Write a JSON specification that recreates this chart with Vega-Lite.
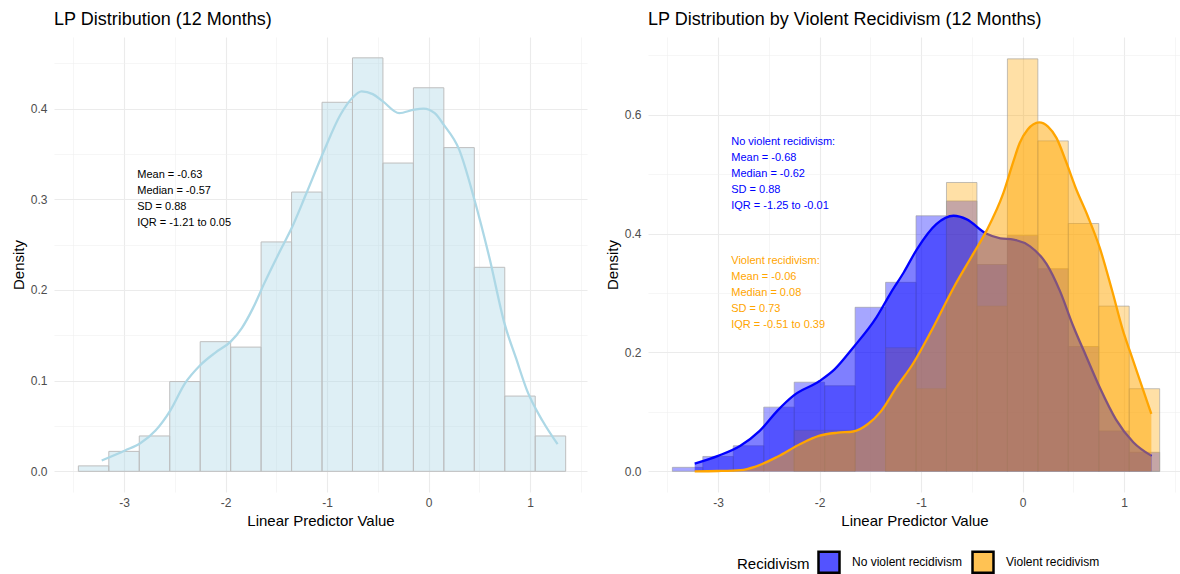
{
  "$schema": "https://vega.github.io/schema/vega-lite/v6.json",
  "background": "white",
  "padding": {"left": 11, "top": 10, "right": 0, "bottom": 0},
  "spacing": 18,
  "config": {
    "font": "Liberation Sans",
    "view": {"stroke": null},
    "axis": {
      "domain": false,
      "ticks": false,
      "labelFont": "Liberation Sans",
      "labelFontSize": 12,
      "labelColor": "#4D4D4D",
      "titleFont": "Liberation Sans",
      "titleFontSize": 15,
      "titleFontWeight": "normal",
      "titleColor": "#000000",
      "gridColor": "#EBEBEB"
    },
    "axisX": {"labelPadding": 5, "titlePadding": 5},
    "axisY": {"labelPadding": 7, "titlePadding": 4},
    "title": {
      "font": "Liberation Sans",
      "fontSize": 18,
      "fontWeight": "normal",
      "color": "#000000",
      "anchor": "start",
      "frame": "group",
      "offset": 8.5,
      "baseline": "alphabetic"
    }
  },
  "datasets": {
    "hist": [
      {"bin_start": -3.45, "bin_end": -3.15, "density": 0.006},
      {"bin_start": -3.15, "bin_end": -2.85, "density": 0.022},
      {"bin_start": -2.85, "bin_end": -2.55, "density": 0.039},
      {"bin_start": -2.55, "bin_end": -2.25, "density": 0.099},
      {"bin_start": -2.25, "bin_end": -1.95, "density": 0.143},
      {"bin_start": -1.95, "bin_end": -1.65, "density": 0.137},
      {"bin_start": -1.65, "bin_end": -1.35, "density": 0.253},
      {"bin_start": -1.35, "bin_end": -1.05, "density": 0.308},
      {"bin_start": -1.05, "bin_end": -0.75, "density": 0.407},
      {"bin_start": -0.75, "bin_end": -0.45, "density": 0.456},
      {"bin_start": -0.45, "bin_end": -0.15, "density": 0.340},
      {"bin_start": -0.15, "bin_end": 0.15, "density": 0.423},
      {"bin_start": 0.15, "bin_end": 0.45, "density": 0.357},
      {"bin_start": 0.45, "bin_end": 0.75, "density": 0.225},
      {"bin_start": 0.75, "bin_end": 1.05, "density": 0.083},
      {"bin_start": 1.05, "bin_end": 1.35, "density": 0.039}
    ],
    "dens": [
      {"x": -3.22, "density": 0.012},
      {"x": -2.99, "density": 0.023},
      {"x": -2.84, "density": 0.031},
      {"x": -2.69, "density": 0.045},
      {"x": -2.545, "density": 0.067},
      {"x": -2.4, "density": 0.097},
      {"x": -2.25, "density": 0.117},
      {"x": -2.1, "density": 0.131},
      {"x": -1.95, "density": 0.143},
      {"x": -1.84, "density": 0.158},
      {"x": -1.73, "density": 0.18},
      {"x": -1.62, "density": 0.207},
      {"x": -1.45, "density": 0.246},
      {"x": -1.35, "density": 0.268},
      {"x": -1.21, "density": 0.305},
      {"x": -1.04, "density": 0.351},
      {"x": -0.87, "density": 0.393},
      {"x": -0.75, "density": 0.412},
      {"x": -0.66, "density": 0.419},
      {"x": -0.55, "density": 0.416},
      {"x": -0.45, "density": 0.408},
      {"x": -0.29, "density": 0.395},
      {"x": -0.14, "density": 0.399},
      {"x": -0.05, "density": 0.4},
      {"x": 0.06, "density": 0.395},
      {"x": 0.15, "density": 0.382},
      {"x": 0.3, "density": 0.355},
      {"x": 0.45, "density": 0.3},
      {"x": 0.6, "density": 0.235},
      {"x": 0.75, "density": 0.162},
      {"x": 0.86, "density": 0.125},
      {"x": 0.97, "density": 0.089},
      {"x": 1.12, "density": 0.056},
      {"x": 1.27, "density": 0.03}
    ],
    "grp_hist": [
      {"group": "No violent recidivism", "bin_start": -3.45, "bin_end": -3.15, "density": 0.0067},
      {"group": "No violent recidivism", "bin_start": -3.15, "bin_end": -2.85, "density": 0.025},
      {"group": "No violent recidivism", "bin_start": -2.85, "bin_end": -2.55, "density": 0.043},
      {"group": "No violent recidivism", "bin_start": -2.55, "bin_end": -2.25, "density": 0.108},
      {"group": "No violent recidivism", "bin_start": -2.25, "bin_end": -1.95, "density": 0.150},
      {"group": "No violent recidivism", "bin_start": -1.95, "bin_end": -1.65, "density": 0.144},
      {"group": "No violent recidivism", "bin_start": -1.65, "bin_end": -1.35, "density": 0.276},
      {"group": "No violent recidivism", "bin_start": -1.35, "bin_end": -1.05, "density": 0.318},
      {"group": "No violent recidivism", "bin_start": -1.05, "bin_end": -0.75, "density": 0.430},
      {"group": "No violent recidivism", "bin_start": -0.75, "bin_end": -0.45, "density": 0.455},
      {"group": "No violent recidivism", "bin_start": -0.45, "bin_end": -0.15, "density": 0.348},
      {"group": "No violent recidivism", "bin_start": -0.15, "bin_end": 0.15, "density": 0.397},
      {"group": "No violent recidivism", "bin_start": 0.15, "bin_end": 0.45, "density": 0.341},
      {"group": "No violent recidivism", "bin_start": 0.45, "bin_end": 0.75, "density": 0.210},
      {"group": "No violent recidivism", "bin_start": 0.75, "bin_end": 1.05, "density": 0.068},
      {"group": "No violent recidivism", "bin_start": 1.05, "bin_end": 1.35, "density": 0.032},
      {"group": "Violent recidivism", "bin_start": -2.25, "bin_end": -1.95, "density": 0.069},
      {"group": "Violent recidivism", "bin_start": -1.95, "bin_end": -1.65, "density": 0.069},
      {"group": "Violent recidivism", "bin_start": -1.35, "bin_end": -1.05, "density": 0.208},
      {"group": "Violent recidivism", "bin_start": -1.05, "bin_end": -0.75, "density": 0.139},
      {"group": "Violent recidivism", "bin_start": -0.75, "bin_end": -0.45, "density": 0.486},
      {"group": "Violent recidivism", "bin_start": -0.45, "bin_end": -0.15, "density": 0.278},
      {"group": "Violent recidivism", "bin_start": -0.15, "bin_end": 0.15, "density": 0.694},
      {"group": "Violent recidivism", "bin_start": 0.15, "bin_end": 0.45, "density": 0.556},
      {"group": "Violent recidivism", "bin_start": 0.45, "bin_end": 0.75, "density": 0.417},
      {"group": "Violent recidivism", "bin_start": 0.75, "bin_end": 1.05, "density": 0.278},
      {"group": "Violent recidivism", "bin_start": 1.05, "bin_end": 1.35, "density": 0.139}
    ],
    "grp_dens": [
      {"group": "No violent recidivism", "x": -3.23, "density": 0.013},
      {"group": "No violent recidivism", "x": -3.0, "density": 0.026},
      {"group": "No violent recidivism", "x": -2.78, "density": 0.043},
      {"group": "No violent recidivism", "x": -2.59, "density": 0.068},
      {"group": "No violent recidivism", "x": -2.41, "density": 0.103},
      {"group": "No violent recidivism", "x": -2.26, "density": 0.127},
      {"group": "No violent recidivism", "x": -2.0, "density": 0.152},
      {"group": "No violent recidivism", "x": -1.85, "density": 0.172},
      {"group": "No violent recidivism", "x": -1.67, "density": 0.208},
      {"group": "No violent recidivism", "x": -1.44, "density": 0.259},
      {"group": "No violent recidivism", "x": -1.3, "density": 0.3},
      {"group": "No violent recidivism", "x": -1.17, "density": 0.335},
      {"group": "No violent recidivism", "x": -1.04, "density": 0.374},
      {"group": "No violent recidivism", "x": -0.85, "density": 0.416},
      {"group": "No violent recidivism", "x": -0.68, "density": 0.43},
      {"group": "No violent recidivism", "x": -0.55, "density": 0.424},
      {"group": "No violent recidivism", "x": -0.36, "density": 0.4},
      {"group": "No violent recidivism", "x": -0.22, "density": 0.392},
      {"group": "No violent recidivism", "x": -0.09, "density": 0.39},
      {"group": "No violent recidivism", "x": 0.07, "density": 0.379},
      {"group": "No violent recidivism", "x": 0.235, "density": 0.349},
      {"group": "No violent recidivism", "x": 0.366, "density": 0.304},
      {"group": "No violent recidivism", "x": 0.497, "density": 0.245},
      {"group": "No violent recidivism", "x": 0.63, "density": 0.192},
      {"group": "No violent recidivism", "x": 0.76, "density": 0.141},
      {"group": "No violent recidivism", "x": 0.92, "density": 0.087},
      {"group": "No violent recidivism", "x": 1.09, "density": 0.049},
      {"group": "No violent recidivism", "x": 1.27, "density": 0.026},
      {"group": "Violent recidivism", "x": -3.23, "density": 0.0},
      {"group": "Violent recidivism", "x": -3.0, "density": 0.0005},
      {"group": "Violent recidivism", "x": -2.78, "density": 0.002},
      {"group": "Violent recidivism", "x": -2.63, "density": 0.008},
      {"group": "Violent recidivism", "x": -2.41, "density": 0.025},
      {"group": "Violent recidivism", "x": -2.19, "density": 0.046},
      {"group": "Violent recidivism", "x": -2.0, "density": 0.06},
      {"group": "Violent recidivism", "x": -1.82, "density": 0.065},
      {"group": "Violent recidivism", "x": -1.67, "density": 0.067},
      {"group": "Violent recidivism", "x": -1.52, "density": 0.08},
      {"group": "Violent recidivism", "x": -1.4, "density": 0.1},
      {"group": "Violent recidivism", "x": -1.24, "density": 0.142},
      {"group": "Violent recidivism", "x": -1.08, "density": 0.181},
      {"group": "Violent recidivism", "x": -0.9, "density": 0.236},
      {"group": "Violent recidivism", "x": -0.68, "density": 0.309},
      {"group": "Violent recidivism", "x": -0.49, "density": 0.365},
      {"group": "Violent recidivism", "x": -0.355, "density": 0.405},
      {"group": "Violent recidivism", "x": -0.19, "density": 0.468},
      {"group": "Violent recidivism", "x": -0.09, "density": 0.522},
      {"group": "Violent recidivism", "x": -0.03, "density": 0.552},
      {"group": "Violent recidivism", "x": 0.05, "density": 0.575},
      {"group": "Violent recidivism", "x": 0.163, "density": 0.587},
      {"group": "Violent recidivism", "x": 0.25, "density": 0.58},
      {"group": "Violent recidivism", "x": 0.333, "density": 0.561},
      {"group": "Violent recidivism", "x": 0.43, "density": 0.52},
      {"group": "Violent recidivism", "x": 0.52, "density": 0.478},
      {"group": "Violent recidivism", "x": 0.64, "density": 0.43},
      {"group": "Violent recidivism", "x": 0.76, "density": 0.376},
      {"group": "Violent recidivism", "x": 0.88, "density": 0.305},
      {"group": "Violent recidivism", "x": 0.99, "density": 0.236},
      {"group": "Violent recidivism", "x": 1.055, "density": 0.203},
      {"group": "Violent recidivism", "x": 1.268, "density": 0.0965}
    ],
    "notes": [
      {"panel": "all", "x": -2.87, "y": 0.30, "label": "Mean = -0.63\nMedian = -0.57\nSD = 0.88\nIQR = -1.21 to 0.05"},
      {"panel": "No violent recidivism", "x": -2.87, "y": 0.50, "label": "No violent recidivism:\nMean = -0.68\nMedian = -0.62\nSD = 0.88\nIQR = -1.25 to -0.01"},
      {"panel": "Violent recidivism", "x": -2.87, "y": 0.30, "label": "Violent recidivism:\nMean = -0.06\nMedian = 0.08\nSD = 0.73\nIQR = -0.51 to 0.39"}
    ]
  },
  "resolve": {"scale": {"x": "independent", "y": "independent", "color": "independent"}, "legend": {"color": "independent"}},
  "hconcat": [
    {
      "width": 533,
      "height": 455,
      "title": "LP Distribution (12 Months)",
      "layer": [
        {
          "data": {"name": "hist"},
          "mark": {"type": "bar", "fill": "#ADD8E6", "fillOpacity": 0.4, "stroke": "#BEBEBE", "strokeWidth": 1},
          "encoding": {
            "x": {
              "field": "bin_start", "type": "quantitative",
              "scale": {"domain": [-3.69, 1.56], "nice": false, "zero": false},
              "axis": {
                "title": "Linear Predictor Value",
                "values": [-3.5, -3, -2.5, -2, -1.5, -1, -0.5, 0, 0.5, 1, 1.5],
                "labelExpr": "datum.value % 1 === 0 ? '' + datum.value : ''",
                "gridWidth": {"condition": {"test": "datum.value % 1 !== 0", "value": 0.6}, "value": 1.1},
                "gridColor": {"condition": {"test": "datum.value % 1 !== 0", "value": "#F0F0F0"}, "value": "#EBEBEB"}
              }
            },
            "x2": {"field": "bin_end"},
            "y": {
              "field": "density", "type": "quantitative",
              "scale": {"domain": [-0.0228, 0.479], "nice": false, "zero": false},
              "axis": {
                "title": "Density",
                "values": [0, 0.05, 0.1, 0.15, 0.2, 0.25, 0.3, 0.35, 0.4, 0.45],
                "labelExpr": "round(datum.value * 100) % 10 === 0 ? format(datum.value, '.1f') : ''",
                "gridWidth": {"condition": {"test": "round(datum.value * 100) % 10 !== 0", "value": 0.6}, "value": 1.1},
                "gridColor": {"condition": {"test": "round(datum.value * 100) % 10 !== 0", "value": "#F0F0F0"}, "value": "#EBEBEB"}
              }
            },
            "y2": {"datum": 0}
          }
        },
        {
          "data": {"name": "dens"},
          "mark": {"type": "line", "stroke": "#ADD8E6", "strokeWidth": 2.3, "interpolate": "monotone"},
          "encoding": {
            "x": {"field": "x", "type": "quantitative"},
            "y": {"field": "density", "type": "quantitative"}
          }
        },
        {
          "data": {"name": "notes"},
          "transform": [{"filter": "datum.panel === 'all'"}],
          "mark": {"type": "text", "align": "left", "baseline": "middle", "dy": -24, "fontSize": 11, "lineHeight": 16, "lineBreak": "\n", "color": "#000000", "font": "Liberation Sans"},
          "encoding": {
            "x": {"field": "x", "type": "quantitative"},
            "y": {"field": "y", "type": "quantitative"},
            "text": {"field": "label"}
          }
        }
      ]
    },
    {
      "width": 533,
      "height": 455,
      "title": "LP Distribution by Violent Recidivism (12 Months)",
      "layer": [
        {
          "data": {"name": "grp_hist"},
          "mark": {"type": "bar", "fillOpacity": 0.35, "stroke": "#9A9A9A", "strokeOpacity": 0.6, "strokeWidth": 1},
          "encoding": {
            "x": {
              "field": "bin_start", "type": "quantitative",
              "scale": {"domain": [-3.69, 1.56], "nice": false, "zero": false},
              "axis": {
                "title": "Linear Predictor Value",
                "values": [-3.5, -3, -2.5, -2, -1.5, -1, -0.5, 0, 0.5, 1, 1.5],
                "labelExpr": "datum.value % 1 === 0 ? '' + datum.value : ''",
                "gridWidth": {"condition": {"test": "datum.value % 1 !== 0", "value": 0.6}, "value": 1.1},
                "gridColor": {"condition": {"test": "datum.value % 1 !== 0", "value": "#F0F0F0"}, "value": "#EBEBEB"}
              }
            },
            "x2": {"field": "bin_end"},
            "y": {
              "field": "density", "type": "quantitative",
              "scale": {"domain": [-0.0348, 0.7308], "nice": false, "zero": false},
              "axis": {
                "title": "Density",
                "values": [0, 0.1, 0.2, 0.3, 0.4, 0.5, 0.6, 0.7],
                "labelExpr": "round(datum.value * 10) % 2 === 0 ? format(datum.value, '.1f') : ''",
                "gridWidth": {"condition": {"test": "round(datum.value * 10) % 2 !== 0", "value": 0.6}, "value": 1.1},
                "gridColor": {"condition": {"test": "round(datum.value * 10) % 2 !== 0", "value": "#F0F0F0"}, "value": "#EBEBEB"}
              }
            },
            "y2": {"datum": 0},
            "color": {
              "field": "group", "type": "nominal",
              "scale": {"domain": ["No violent recidivism", "Violent recidivism"], "range": ["#0000FF", "#FFA500"]},
              "legend": {
                "title": "Recidivism",
                "orient": "none",
                "legendX": 89,
                "legendY": 513,
                "direction": "horizontal",
                "titleOrient": "left",
                "titleAnchor": "middle",
                "titleBaseline": "middle",
                "titleFont": "Liberation Sans",
                "titleFontSize": 15,
                "titleFontWeight": "normal",
                "titleColor": "#000000",
                "titlePadding": 7,
                "labelFont": "Liberation Sans",
                "labelFontSize": 12,
                "labelColor": "#000000",
                "labelOffset": 11,
                "columnPadding": 4,
                "symbolType": "square",
                "symbolSize": 441,
                "symbolStrokeWidth": 2.5,
                "symbolStrokeColor": "#000000",
                "symbolOpacity": 1,
                "encode": {
                  "symbols": {
                    "update": {
                      "fillOpacity": {"value": 0.675},
                      "stroke": {"value": "#000000"},
                      "strokeWidth": {"value": 2.5},
                      "strokeOpacity": {"value": 1},
                      "opacity": {"value": 1}
                    }
                  }
                }
              }
            }
          }
        },
        {
          "data": {"name": "grp_dens"},
          "transform": [{"filter": "datum.group === 'No violent recidivism'"}],
          "mark": {"type": "area", "color": "#0000FF", "opacity": 0.5, "interpolate": "monotone"},
          "encoding": {
            "x": {"field": "x", "type": "quantitative"},
            "y": {"field": "density", "type": "quantitative"}
          }
        },
        {
          "data": {"name": "grp_dens"},
          "transform": [{"filter": "datum.group === 'No violent recidivism'"}],
          "mark": {"type": "line", "stroke": "#0000FF", "strokeWidth": 2.3, "interpolate": "monotone"},
          "encoding": {
            "x": {"field": "x", "type": "quantitative"},
            "y": {"field": "density", "type": "quantitative"}
          }
        },
        {
          "data": {"name": "grp_dens"},
          "transform": [{"filter": "datum.group === 'Violent recidivism'"}],
          "mark": {"type": "area", "color": "#FFA500", "opacity": 0.5, "interpolate": "monotone"},
          "encoding": {
            "x": {"field": "x", "type": "quantitative"},
            "y": {"field": "density", "type": "quantitative"}
          }
        },
        {
          "data": {"name": "grp_dens"},
          "transform": [{"filter": "datum.group === 'Violent recidivism'"}],
          "mark": {"type": "line", "stroke": "#FFA500", "strokeWidth": 2.3, "interpolate": "monotone"},
          "encoding": {
            "x": {"field": "x", "type": "quantitative"},
            "y": {"field": "density", "type": "quantitative"}
          }
        },
        {
          "data": {"name": "notes"},
          "transform": [{"filter": "datum.panel === 'No violent recidivism'"}],
          "mark": {"type": "text", "align": "left", "baseline": "middle", "dy": -32, "fontSize": 11, "lineHeight": 16, "lineBreak": "\n", "color": "#0000FF", "font": "Liberation Sans"},
          "encoding": {
            "x": {"field": "x", "type": "quantitative"},
            "y": {"field": "y", "type": "quantitative"},
            "text": {"field": "label"}
          }
        },
        {
          "data": {"name": "notes"},
          "transform": [{"filter": "datum.panel === 'Violent recidivism'"}],
          "mark": {"type": "text", "align": "left", "baseline": "middle", "dy": -32, "fontSize": 11, "lineHeight": 16, "lineBreak": "\n", "color": "#FFA500", "font": "Liberation Sans"},
          "encoding": {
            "x": {"field": "x", "type": "quantitative"},
            "y": {"field": "y", "type": "quantitative"},
            "text": {"field": "label"}
          }
        }
      ]
    }
  ]
}
